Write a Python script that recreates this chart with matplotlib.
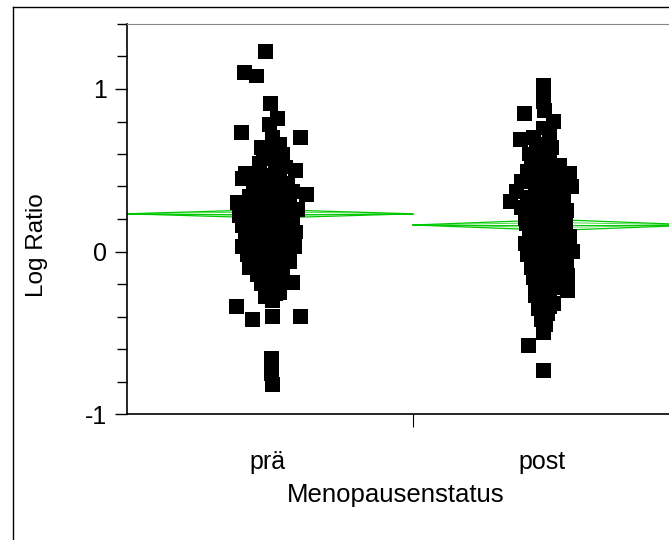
import numpy as np
import matplotlib
matplotlib.use('Agg')
import matplotlib.pyplot as plt
from matplotlib.ticker import MultipleLocator, FixedLocator
from matplotlib.lines import Line2D

plt.rcParams['font.family'] = ['Liberation Sans', 'DejaVu Sans']

groups = ['prä', 'post']

# log ratio values, with their horizontal jitter (px)
pre_vals = [1.23, 1.10, 1.08, 0.91, 0.82, 0.78, 0.73, 0.70, 0.70, 0.66,
            0.62, 0.60, 0.57, 0.55, 0.52, 0.50, 0.48, 0.47, 0.45, 0.44,
            0.42, 0.42, 0.40, 0.38, 0.37, 0.36, 0.35, 0.34, 0.32, 0.30,
            0.30, 0.29, 0.28, 0.27, 0.26, 0.25, 0.24, 0.23, 0.22, 0.21,
            0.20, 0.19, 0.18, 0.17, 0.16, 0.15, 0.14, 0.13, 0.12, 0.11,
            0.10, 0.09, 0.08, 0.07, 0.06, 0.05, 0.04, 0.03, 0.03, 0.02,
            0.01, 0.00, -0.01, -0.02, -0.03, -0.04, -0.05, -0.06, -0.08, -0.09,
            -0.10, -0.11, -0.12, -0.14, -0.15, -0.17, -0.19, -0.20, -0.22, -0.24,
            -0.26, -0.28, -0.30, -0.34, -0.40, -0.42, -0.40, -0.66, -0.70, -0.75,
            -0.82,
            0.64, 0.58, 0.50, 0.46, 0.41, 0.33, 0.31, 0.26, 0.19, 0.16,
            0.11, 0.07, 0.04, -0.02, -0.07, -0.13, -0.16, -0.25, 0.54, 0.36]
pre_jit = [-2, -23, -11, 3, 10, 2, -26, 33, 5, 12,
           0, 15, -4, 8, 18, 28, -22, 0, -25, 10,
           -14, 20, 2, -8, 25, 15, 39, -18, 6, -30,
           22, -5, 12, -20, 30, 0, -12, 18, -28, 8,
           -3, 25, -15, 12, -25, 2, 20, -8, 28, -18,
           8, -2, 15, -22, 5, 22, -12, 27, -25, 0,
           12, -8, 18, -20, 3, 10, -14, 22, -5, 8,
           -18, 15, 0, -10, 12, 4, 25, -6, 10, 2,
           8, -2, 5, -31, 33, -15, 5, 4, 4, 4,
           5,
           -6, 4, 12, -10, 8, 14, -8, 10, -14, 16,
           -4, 10, 2, 6, -10, 14, -2, 12, -8, -4]

post_vals = [1.02, 0.97, 0.92, 0.87, 0.85, 0.80, 0.76, 0.72, 0.69, 0.66,
             0.64, 0.60, 0.58, 0.55, 0.53, 0.51, 0.48, 0.47, 0.45, 0.43,
             0.42, 0.40, 0.38, 0.37, 0.35, 0.33, 0.32, 0.31, 0.30, 0.28,
             0.27, 0.25, 0.24, 0.22, 0.21, 0.19, 0.18, 0.17, 0.15, 0.14,
             0.13, 0.12, 0.10, 0.09, 0.08, 0.06, 0.05, 0.04, 0.03, 0.02,
             0.00, -0.01, -0.02, -0.04, -0.05, -0.07, -0.08, -0.10, -0.11, -0.13,
             -0.15, -0.16, -0.18, -0.20, -0.22, -0.24, -0.25, -0.28, -0.30, -0.32,
             -0.35, -0.38, -0.42, -0.45, -0.50, -0.58, -0.73,
             0.62, 0.56, 0.49, 0.44, 0.39, 0.34, 0.29, 0.23, 0.16, 0.11,
             0.07, 0.01, -0.06, -0.12, -0.19, -0.27, -0.34, 0.70, 0.26, 0.20]
post_jit = [2, 2, 2, 3, -17, 12, 2, 8, -21, -5,
            10, -12, 2, -10, 18, 5, 28, -8, 12, -20,
            0, 30, 15, -25, 6, -14, 22, -31, 0, 10,
            -20, 25, -5, 14, -12, 2, 24, -15, 8, -4,
            18, -12, 5, 28, -10, 12, -16, 0, 22, -8,
            31, 6, -14, 15, -4, 25, 0, -10, 12, 3,
            26, -8, 10, 0, 18, 26, -6, 8, 0, 12,
            -3, 6, 0, 4, 2, -13, 2,
            -4, 8, -14, 20, -6, 14, -10, 4, -8, 16,
            -4, 10, 16, -4, 14, -6, 8, -8, 12, -16]

means = [0.232, 0.163]
ci_half = [0.026, 0.033]
overlap_half = [0.012, 0.015]

cat_pos = [-0.01, 0.95]
green = '#00c800'

fig = plt.figure(figsize=(6.69, 5.40), dpi=100)
ax = fig.add_axes([127/669, 126/540, 542/669, 390/540])

for i, (m, h, o) in enumerate(zip(means, ci_half, overlap_half)):
    ax.plot([i - 0.5, i, i + 0.5, i, i - 0.5], [m, m + h, m, m - h, m],
            color=green, lw=0.9, zorder=1)
    ax.plot([i - 0.5, i, i + 0.5, i, i - 0.5], [m, m + o, m, m - o, m],
            color=green, lw=0.7, alpha=0.7, zorder=1)
    ax.plot([i - 0.5, i + 0.5], [m, m], color=green, lw=0.7, zorder=1)

for i, (vals, jit) in enumerate([(pre_vals, pre_jit), (post_vals, post_jit)]):
    ax.scatter(cat_pos[i] + np.array(jit) / 286, vals, marker='s', s=115,
               c='black', edgecolors='none', zorder=3)

ax.set_xlim(-0.5, 1.395)
ax.set_ylim(-1, 1.4)

ax.yaxis.set_major_locator(FixedLocator([-1, 0, 1]))
ax.yaxis.set_minor_locator(MultipleLocator(0.2))
ax.set_yticklabels(['-1', '0', '1'])
ax.tick_params(axis='y', which='major', length=8.5, width=1, labelsize=18, pad=6)
ax.tick_params(axis='y', which='minor', length=7, width=1)

ax.set_xticks(cat_pos)
ax.set_xticklabels(groups)
ax.set_xticks([0.5], minor=True)
ax.tick_params(axis='x', which='major', length=0, labelsize=18, pad=26)
ax.tick_params(axis='x', which='minor', length=9, width=0.8)

ax.spines['right'].set_visible(False)
ax.spines['top'].set_color('#888888')
ax.spines['top'].set_linewidth(0.8)
ax.spines['left'].set_linewidth(1.2)
ax.spines['bottom'].set_linewidth(1.2)

fig.text(396/669, 1 - 495/540, 'Menopausenstatus', fontsize=18.5, ha='center', va='center')
fig.text(37/669, 1 - 245/540, 'Log Ratio', fontsize=17.5, rotation=90, ha='center', va='center')

# outer frame
fig.add_artist(Line2D([13/669, 13/669], [0, 1 - 7/540], transform=fig.transFigure, color='black', lw=1))
fig.add_artist(Line2D([13/669, 1], [1 - 7/540, 1 - 7/540], transform=fig.transFigure, color='black', lw=1))

fig.savefig('out.png', dpi=100)
